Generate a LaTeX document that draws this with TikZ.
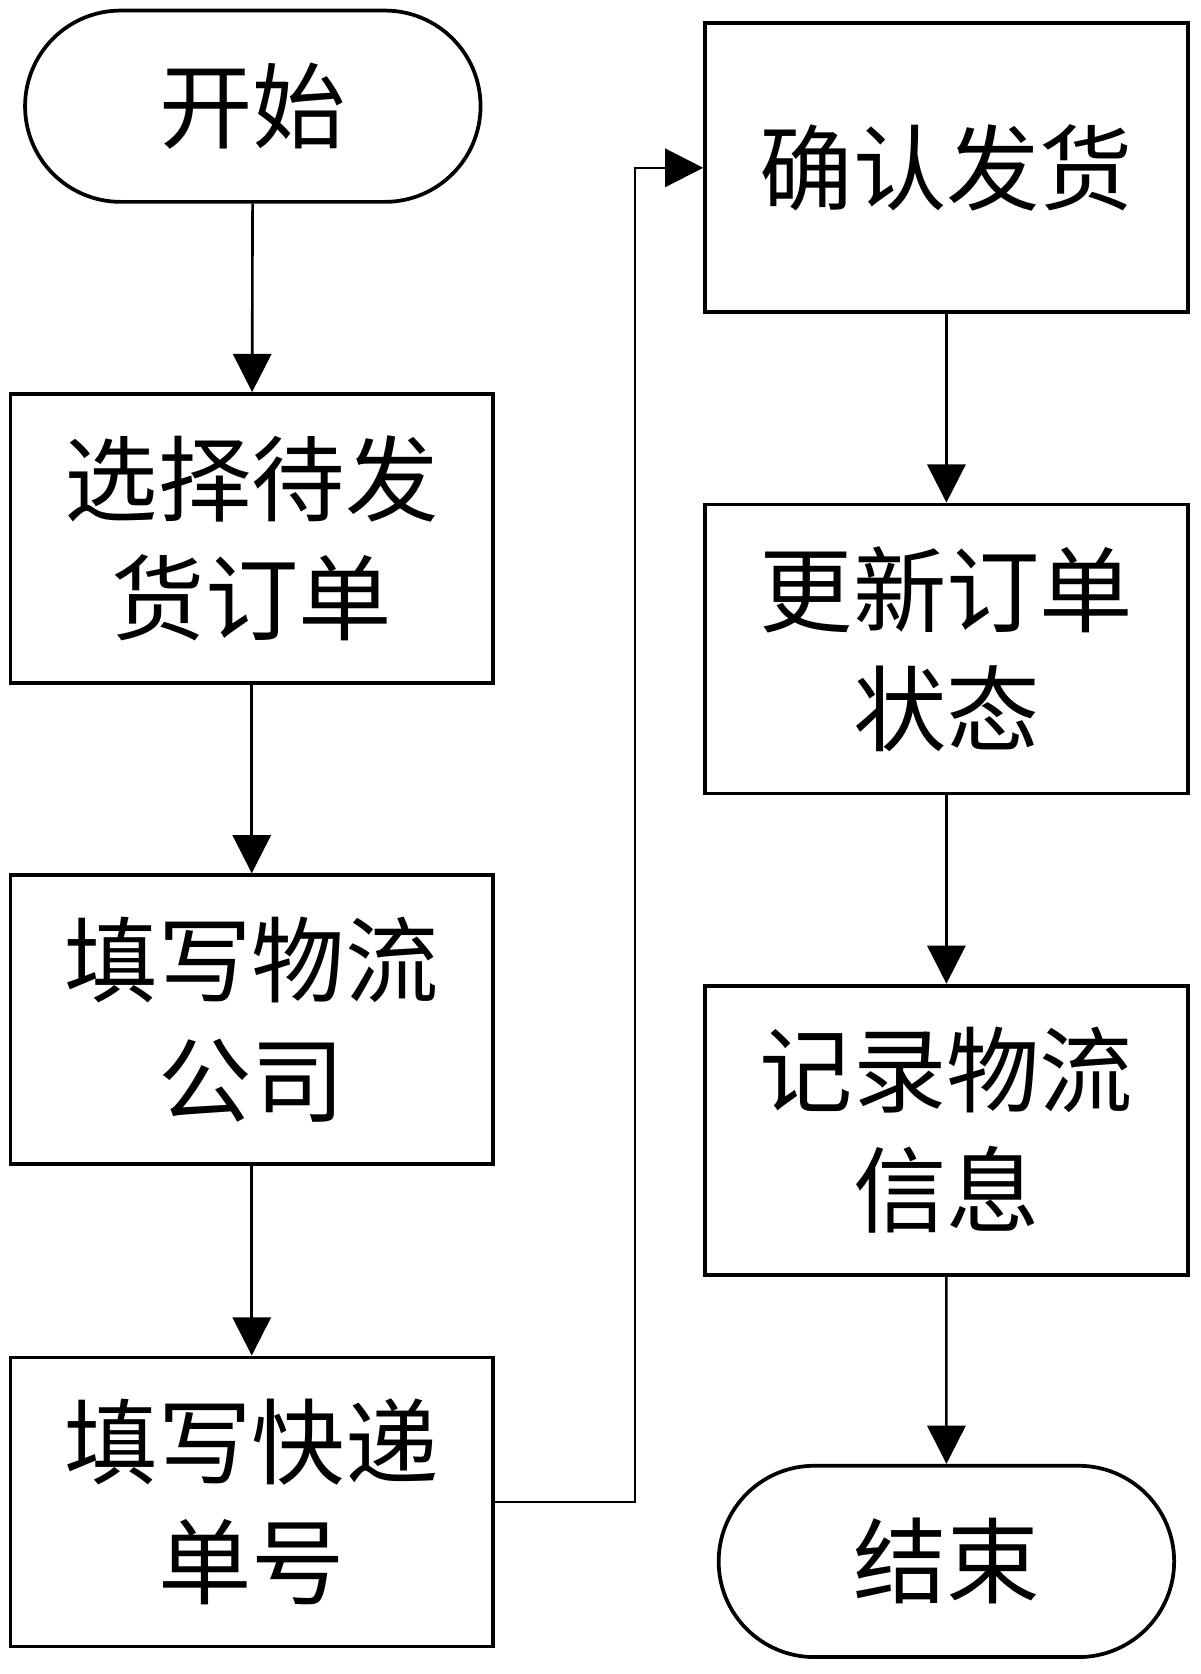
\documentclass[tikz,border=0pt]{standalone}
\usepackage{fontspec}
\setmainfont{Noto Sans CJK SC}
\usetikzlibrary{arrows.meta, positioning, shapes.misc}

\begin{document}
\begin{tikzpicture}[x=0.01cm, y=-0.01cm,
    box/.style={rectangle, draw, line width=1pt, minimum width=4.54cm,
                minimum height=2.72cm, align=center, font=\fontsize{25}{32}\selectfont},
    term/.style={rounded rectangle, draw, line width=1pt, minimum width=4.52cm,
                 minimum height=1.8cm, font=\fontsize{25}{32}\selectfont},
    flow/.style={-{Triangle[length=3.6mm,width=3.6mm]}, line width=0.7pt}]
    \useasboundingbox (0,0) rectangle (1130,1576);
    % Left column
    \node[term] (start) at (238,100) {开始};
    \node[box] (select) at (237,507) {选择待发\\货订单};
    \node[box] (company) at (237,960) {填写物流\\公司};
    \node[box] (number) at (237,1414) {填写快递\\单号};

    % Right column
    \node[box] (confirm) at (891,158) {确认发货};
    \node[box] (update) at (891,611) {更新订单\\状态};
    \node[box] (record) at (891,1064) {记录物流\\信息};
    \node[term] (end) at (891,1470) {结束};

    % Arrows
    \draw[flow] (start) -- (select);
    \draw[flow] (select) -- (company);
    \draw[flow] (company) -- (number);
    \draw[flow] (number.east) -- ++(132,0) |- (confirm.west);
    \draw[flow] (confirm) -- (update);
    \draw[flow] (update) -- (record);
    \draw[flow] (record) -- (end);
\end{tikzpicture}
\end{document}
